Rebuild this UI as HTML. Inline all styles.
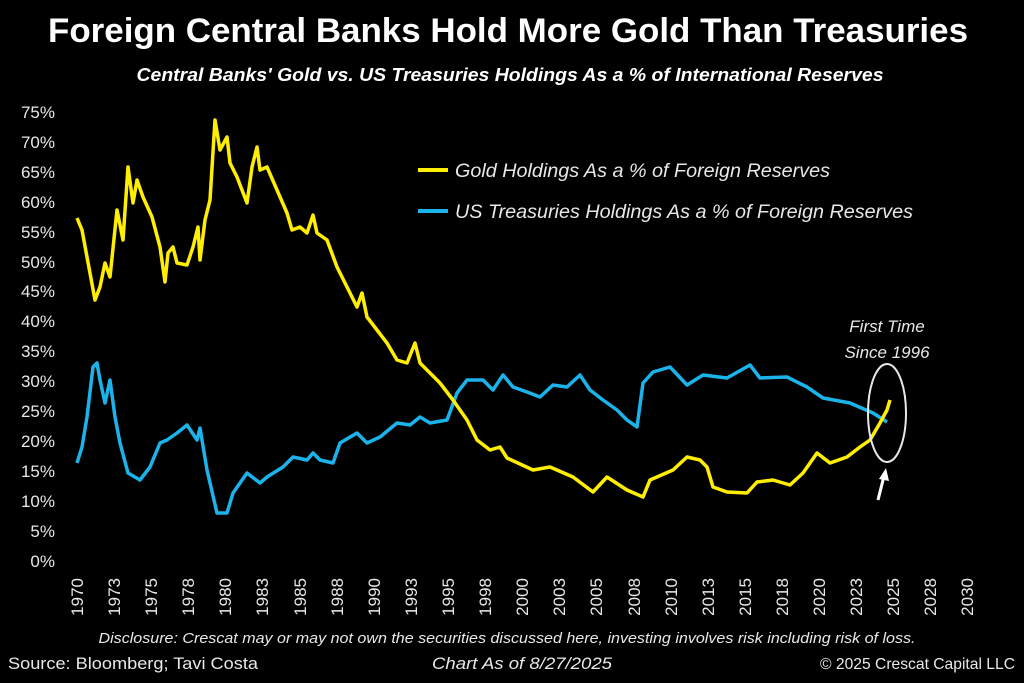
<!DOCTYPE html>
<html><head><meta charset="utf-8"><style>
body{margin:0;background:#000;width:1024px;height:683px;overflow:hidden;font-family:"Liberation Sans",sans-serif}
</style></head><body>
<svg width="1024" height="683" xmlns="http://www.w3.org/2000/svg" style="display:block">
<rect width="1024" height="683" fill="#000"/>
<text x="508" y="42" fill="#fff" font-size="34" font-weight="bold" text-anchor="middle" font-family="Liberation Sans" textLength="920" lengthAdjust="spacingAndGlyphs">Foreign Central Banks Hold More Gold Than Treasuries</text>
<text x="510" y="81" fill="#fff" font-size="18" font-weight="bold" font-style="italic" text-anchor="middle" font-family="Liberation Sans" textLength="747" lengthAdjust="spacingAndGlyphs">Central Banks' Gold vs. US Treasuries Holdings As a % of International Reserves</text>
<g fill="#e8e8e8" font-size="17" text-anchor="end" font-family="Liberation Sans">
<text x="55" y="567">0%</text><text x="55" y="537">5%</text><text x="55" y="507">10%</text><text x="55" y="477">15%</text><text x="55" y="447">20%</text><text x="55" y="417">25%</text><text x="55" y="387">30%</text><text x="55" y="357">35%</text><text x="55" y="327">40%</text><text x="55" y="297">45%</text><text x="55" y="268">50%</text><text x="55" y="238">55%</text><text x="55" y="208">60%</text><text x="55" y="178">65%</text><text x="55" y="148">70%</text><text x="55" y="118">75%</text>
</g>
<g fill="#e8e8e8" font-size="17" text-anchor="end" font-family="Liberation Sans">
<text transform="translate(83,578) rotate(-90)">1970</text>
<text transform="translate(120,578) rotate(-90)">1973</text>
<text transform="translate(157,578) rotate(-90)">1975</text>
<text transform="translate(194,578) rotate(-90)">1978</text>
<text transform="translate(231,578) rotate(-90)">1980</text>
<text transform="translate(268,578) rotate(-90)">1983</text>
<text transform="translate(306,578) rotate(-90)">1985</text>
<text transform="translate(343,578) rotate(-90)">1988</text>
<text transform="translate(380,578) rotate(-90)">1990</text>
<text transform="translate(417,578) rotate(-90)">1993</text>
<text transform="translate(454,578) rotate(-90)">1995</text>
<text transform="translate(491,578) rotate(-90)">1998</text>
<text transform="translate(528,578) rotate(-90)">2000</text>
<text transform="translate(565,578) rotate(-90)">2003</text>
<text transform="translate(602,578) rotate(-90)">2005</text>
<text transform="translate(640,578) rotate(-90)">2008</text>
<text transform="translate(677,578) rotate(-90)">2010</text>
<text transform="translate(714,578) rotate(-90)">2013</text>
<text transform="translate(751,578) rotate(-90)">2015</text>
<text transform="translate(788,578) rotate(-90)">2018</text>
<text transform="translate(825,578) rotate(-90)">2020</text>
<text transform="translate(862,578) rotate(-90)">2023</text>
<text transform="translate(899,578) rotate(-90)">2025</text>
<text transform="translate(936,578) rotate(-90)">2028</text>
<text transform="translate(973,578) rotate(-90)">2030</text>
</g>
<polyline fill="none" stroke="#1ab3ea" stroke-width="3.5" stroke-linejoin="round" points="77,463 82,447 87,417 93,367 97,363 100,380 105,403 110,380 115,417 120,443 128,473 140,480 150,467 160,443 167,440 177,433 187,425 197,440 200,428 207,470 217,513 227,513 233,493 247,473 260,483 267,477 283,467 293,457 307,460 313,453 320,460 333,463 340,443 357,433 367,443 380,437 397,423 410,425 420,417 430,423 447,420 457,393 467,380 483,380 493,390 503,375 513,387 527,392 540,397 553,385 567,387 580,375 590,390 603,400 617,410 627,420 637,427 643,383 653,372 670,367 687,385 703,375 727,378 750,365 760,378 787,377 807,387 823,398 850,403 873,413 887,422"/>
<polyline fill="none" stroke="#ffee00" stroke-width="3.5" stroke-linejoin="round" points="77,218 82,230 87,257 95,300 100,287 105,263 110,277 117,210 123,240 128,167 133,203 137,180 143,197 152,217 160,247 165,282 168,253 173,247 177,263 187,265 193,247 198,227 200,260 205,220 210,200 215,120 220,150 227,137 230,163 237,177 247,203 252,167 257,147 260,170 267,167 277,190 287,213 292,230 300,227 307,233 313,215 317,233 327,240 337,267 347,287 357,307 362,293 367,317 377,330 387,343 397,360 407,363 415,343 420,363 430,373 440,383 453,400 467,420 477,440 490,450 500,447 507,458 533,470 550,467 573,477 593,492 607,477 627,490 643,497 650,480 673,470 687,457 700,460 707,467 713,487 727,492 747,493 757,482 773,480 790,485 803,473 817,453 830,463 847,457 860,447 870,440 880,423 887,410 890,400"/>
<line x1="418" y1="170" x2="448" y2="170" stroke="#ffee00" stroke-width="4"/>
<line x1="418" y1="211" x2="448" y2="211" stroke="#1ab3ea" stroke-width="4"/>
<g fill="#e8e8e8" font-style="italic" font-family="Liberation Sans">
<text x="455" y="177" font-size="19" textLength="375" lengthAdjust="spacingAndGlyphs">Gold Holdings As a % of Foreign Reserves</text>
<text x="455" y="218" font-size="19" textLength="458" lengthAdjust="spacingAndGlyphs">US Treasuries Holdings As a % of Foreign Reserves</text>
<text x="887" y="332" text-anchor="middle" font-size="17">First Time</text>
<text x="887" y="358" text-anchor="middle" font-size="17">Since 1996</text>
</g>
<ellipse cx="887" cy="413" rx="19" ry="49" fill="none" stroke="#e8e8e8" stroke-width="2"/>
<line x1="878" y1="500" x2="884" y2="476" stroke="#fff" stroke-width="3"/>
<polygon points="886,468 879,479 889,481" fill="#fff"/>
<text x="507" y="643" fill="#e8e8e8" font-size="15" font-style="italic" text-anchor="middle" font-family="Liberation Sans" textLength="817" lengthAdjust="spacingAndGlyphs">Disclosure: Crescat may or may not own the securities discussed here, investing involves risk including risk of loss.</text>
<text x="8" y="669" fill="#e8e8e8" font-size="17" font-family="Liberation Sans" textLength="250" lengthAdjust="spacingAndGlyphs">Source: Bloomberg; Tavi Costa</text>
<text x="522" y="669" fill="#e8e8e8" font-size="17" font-style="italic" text-anchor="middle" font-family="Liberation Sans" textLength="180" lengthAdjust="spacingAndGlyphs">Chart As of 8/27/2025</text>
<text x="1015" y="669" fill="#e8e8e8" font-size="16" text-anchor="end" font-family="Liberation Sans" textLength="195" lengthAdjust="spacingAndGlyphs">© 2025 Crescat Capital LLC</text>
</svg>
</body></html>
